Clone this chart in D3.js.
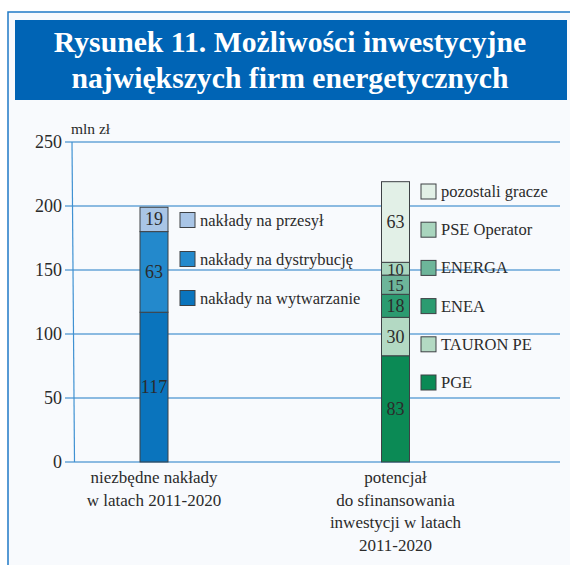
<!DOCTYPE html>
<html>
<head>
<meta charset="utf-8">
<script src="https://cdn.jsdelivr.net/npm/d3@7"></script>
<style>
  body { margin: 0; background: #ffffff; }
  svg { display: block; }
  text { font-family: "Liberation Serif", "DejaVu Serif", serif; }
</style>
</head>
<body>
<svg id="chart" width="570" height="565"></svg>
<script>
// categories (x axis) and their labels, line by line
const categories = ["needs", "potential"];
const categoryLabels = [
  ["niezbędne nakłady", "w latach 2011-2020"],
  ["potencjał", "do sfinansowania", "inwestycji w latach", "2011-2020"]
];

// left bar: stacked bottom -> top
const needsSeries = ["nakłady na wytwarzanie", "nakłady na dystrybucję", "nakłady na przesył"];
const needsValues = [117, 63, 19];
const needsColors = ["#0a74bd", "#2389cc", "#a9c5e6"];

// right bar: stacked bottom -> top
const potentialSeries = ["PGE", "TAURON PE", "ENEA", "ENERGA", "PSE Operator", "pozostali gracze"];
const potentialValues = [83, 30, 18, 15, 10, 63];
const potentialColors = ["#0b8a55", "#b3d9c3", "#2b9b70", "#6db59a", "#a9d5be", "#e2f0e7"];

const yTicks = [0, 50, 100, 150, 200, 250];

const svg = d3.select("#chart");

// background and frame
svg.append("rect").attr("x", 0).attr("y", 0).attr("width", 570).attr("height", 565).attr("fill", "#ffffff");
svg.append("rect")
  .attr("x", 8).attr("y", 12).attr("width", 580).attr("height", 600)
  .attr("fill", "#f8fafd").attr("stroke", "#1f7ac6").attr("stroke-width", 1.5);

// title banner
svg.append("rect")
  .attr("x", 15).attr("y", 20).attr("width", 552).attr("height", 80)
  .attr("fill", "#0064b5");
const titleLines = ["Rysunek 11. Możliwości inwestycyjne", "największych firm energetycznych"];
svg.selectAll(".title")
  .data(titleLines)
  .enter()
  .append("text")
  .attr("class", "title")
  .attr("x", 290)
  .attr("y", (d, i) => 52 + i * 36)
  .attr("text-anchor", "middle")
  .attr("fill", "#ffffff")
  .attr("font-weight", "bold")
  .attr("font-size", "29.7px")
  .text((d) => d);

// scales
const margin = { left: 73, right: 560, top: 142, bottom: 462 };
const y = d3.scaleLinear().domain([0, 250]).range([margin.bottom, margin.top]);
const x = d3.scalePoint().domain(categories).range([33.25, 516.25]).padding(0.5);
const barWidth = 28;
const cx = (c) => x(c);

// gridlines
svg.selectAll(".grid")
  .data(yTicks)
  .enter()
  .append("line")
  .attr("class", "grid")
  .attr("x1", margin.left - 8)
  .attr("x2", margin.right)
  .attr("y1", (d) => y(d))
  .attr("y2", (d) => y(d))
  .attr("stroke", "#1f7ac6")
  .attr("stroke-width", 1.2);

// vertical axis line
svg.append("line")
  .attr("x1", 72).attr("x2", 74.5)
  .attr("y1", y(250)).attr("y2", y(0))
  .attr("stroke", "#3f91d2").attr("stroke-width", 1.2);

// tick labels
svg.selectAll(".ytick")
  .data(yTicks)
  .enter()
  .append("text")
  .attr("class", "ytick")
  .attr("x", 62)
  .attr("y", (d) => y(d) + 6)
  .attr("text-anchor", "end")
  .attr("font-size", "18px")
  .attr("fill", "#2a2a2a")
  .text((d) => d);

svg.append("text")
  .attr("x", 71).attr("y", 134)
  .attr("font-size", "15.5px").attr("fill", "#2a2a2a")
  .text("mln zł");

// stacked bars
const drawStack = (cat, names, values, colors) => {
  const stack = d3.stack().keys(names)([Object.fromEntries(names.map((n, i) => [n, values[i]]))]);
  const g = svg.append("g");
  g.selectAll("rect")
    .data(stack)
    .enter()
    .append("rect")
    .attr("x", cx(cat) - barWidth / 2)
    .attr("width", barWidth)
    .attr("y", (d) => y(d[0][1]))
    .attr("height", (d) => y(d[0][0]) - y(d[0][1]))
    .attr("fill", (d, i) => colors[i])
    .attr("stroke", "#3d4145")
    .attr("stroke-width", 1);
  g.selectAll("text")
    .data(stack)
    .enter()
    .append("text")
    .attr("x", cx(cat))
    .attr("y", (d) => (y(d[0][0]) + y(d[0][1])) / 2 + 6)
    .attr("text-anchor", "middle")
    .attr("font-size", (d, i) => (values[i] < 16 ? "16.5px" : "18px"))
    .attr("fill", "#2b2b2b")
    .text((d, i) => values[i]);
};
drawStack("needs", needsSeries, needsValues, needsColors);
drawStack("potential", potentialSeries, potentialValues, potentialColors);

// legends (top item first)
const drawLegend = (names, colors, lx, ly, step) => {
  const items = names.map((n, i) => ({ n, c: colors[i] })).reverse();
  const lg = svg.selectAll(null)
    .data(items)
    .enter()
    .append("g")
    .attr("transform", (d, i) => `translate(${lx}, ${ly + i * step})`);
  lg.append("rect")
    .attr("x", 0).attr("y", -7.5)
    .attr("width", 15).attr("height", 15)
    .attr("fill", (d) => d.c)
    .attr("stroke", "#3d4145").attr("stroke-width", 1);
  lg.append("text")
    .attr("x", 20).attr("y", 5.5)
    .attr("font-size", "16.5px").attr("fill", "#2b2b2b")
    .text((d) => d.n);
};
drawLegend(needsSeries, needsColors, 180, 220, 39);
drawLegend(potentialSeries, potentialColors, 421, 191.5, 38.2);

// category labels
categories.forEach((c, ci) => {
  svg.append("g").selectAll("text")
    .data(categoryLabels[ci])
    .enter()
    .append("text")
    .attr("x", cx(c))
    .attr("y", (d, i) => 483 + i * 22.5)
    .attr("text-anchor", "middle")
    .attr("font-size", "17px")
    .attr("fill", "#2b2b2b")
    .text((d) => d);
});
</script>
</body>
</html>
